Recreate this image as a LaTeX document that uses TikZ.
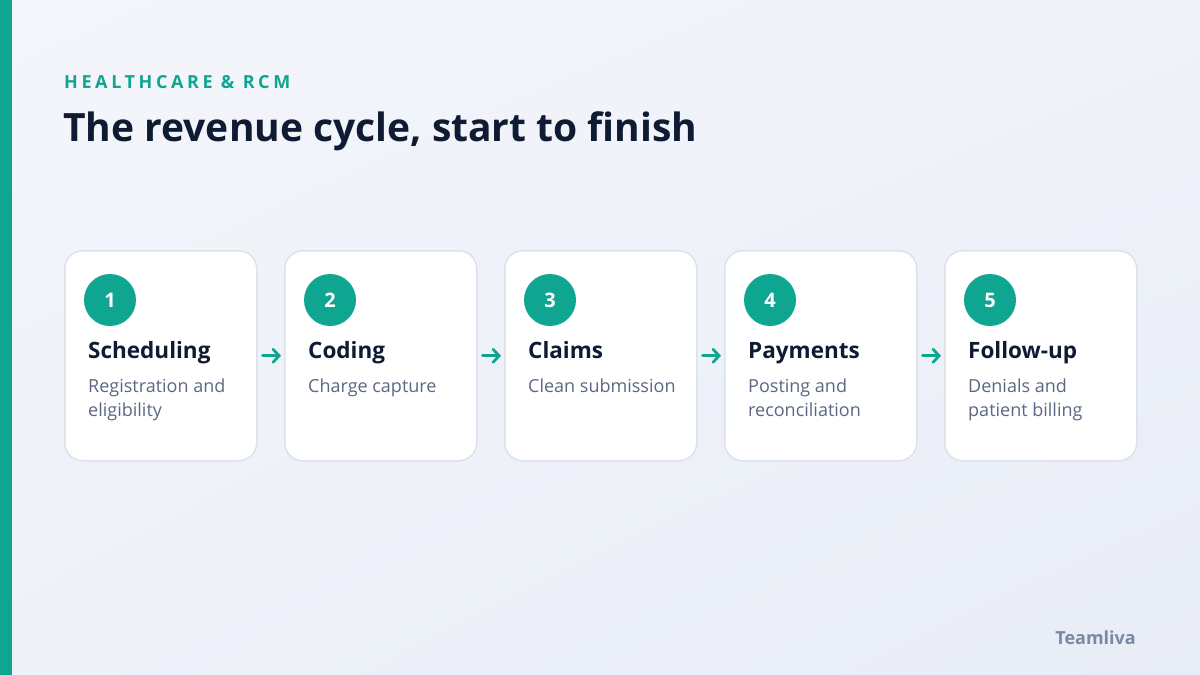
\documentclass[tikz,border=0pt]{standalone}
\usepackage{fontspec}
\setmainfont{Open Sans}
\newfontfamily\kickerfont[LetterSpace=20]{Open Sans}
\usetikzlibrary{arrows.meta,positioning,shadings}
\definecolor{teal}{HTML}{0EA690}
\definecolor{navy}{HTML}{0F1B33}
\definecolor{subgray}{HTML}{5B6883}
\definecolor{cardborder}{HTML}{DCE2EC}
\definecolor{bgA}{HTML}{F4F6FB}
\definecolor{bgB}{HTML}{E8ECF5}
\definecolor{logogray}{HTML}{7A88A5}
\tikzset{
  card/.style={draw=cardborder, line width=1.5pt, fill=white, rounded corners=18pt, minimum width=192pt, minimum height=210pt, inner sep=0pt},
  badge/.style={circle, fill=teal, minimum size=52pt, inner sep=0pt, text=white, font=\bfseries\fontsize{20}{24}\selectfont},
  heading/.style={anchor=base west, inner sep=0pt, text=navy, font=\bfseries\fontsize{22.5}{26}\selectfont},
  subtext/.style={anchor=base west, inner sep=0pt, text=subgray, font=\fontsize{18}{24}\selectfont},
  flow/.style={draw=teal, line width=2.8pt, line cap=round, -{Straight Barb[length=6pt,width=13pt,line cap=round]}, shorten <=5pt, shorten >=3pt}
}
\begin{document}
\begin{tikzpicture}[x=1pt,y=-1pt]
\useasboundingbox (0,0) rectangle (1200,675);
\shade[upper left=bgA, upper right=bgA!60!bgB, lower left=bgA!50!bgB, lower right=bgB] (0,0) rectangle (1200,675);
\fill[teal] (0,0) rectangle (12,675);
\node[anchor=base west, inner sep=0pt, text=teal, font=\kickerfont\bfseries\fontsize{18}{20}\selectfont] (kicker) at (64,88) {HEALTHCARE \& RCM};
\node[anchor=base west, inner sep=0pt, text=navy, font=\bfseries\fontsize{39}{46}\selectfont] (title) at (63,141) {The revenue cycle, start to finish};
\foreach \i/\h/\sa/\sb [count=\k from 0] in {1/Scheduling/Registration and/eligibility, 2/Coding/Charge capture/, 3/Claims/Clean submission/, 4/Payments/Posting and/reconciliation, 5/Follow-up/Denials and/patient billing} {
  \pgfmathsetmacro{\x}{64+220*\k}
  \node[card, anchor=north west] (c\i) at (\x,250) {};
  \node[badge] (b\i) at (\x+46,300) {\i};
  \node[heading] (h\i) at (\x+24,358) {\h};
  \node[subtext] (sa\i) at (\x+24,392) {\sa};
  \node[subtext] (sb\i) at (\x+24,416) {\sb};
}
\foreach \a/\b in {1/2,2/3,3/4,4/5} {
  \draw[flow] (c\a.east) -- (c\b.west);
}
\node[anchor=base east, inner sep=0pt, text=logogray, font=\bfseries\fontsize{18}{20}\selectfont] (logo) at (1136,644) {Teamliva};
\end{tikzpicture}
\end{document}
